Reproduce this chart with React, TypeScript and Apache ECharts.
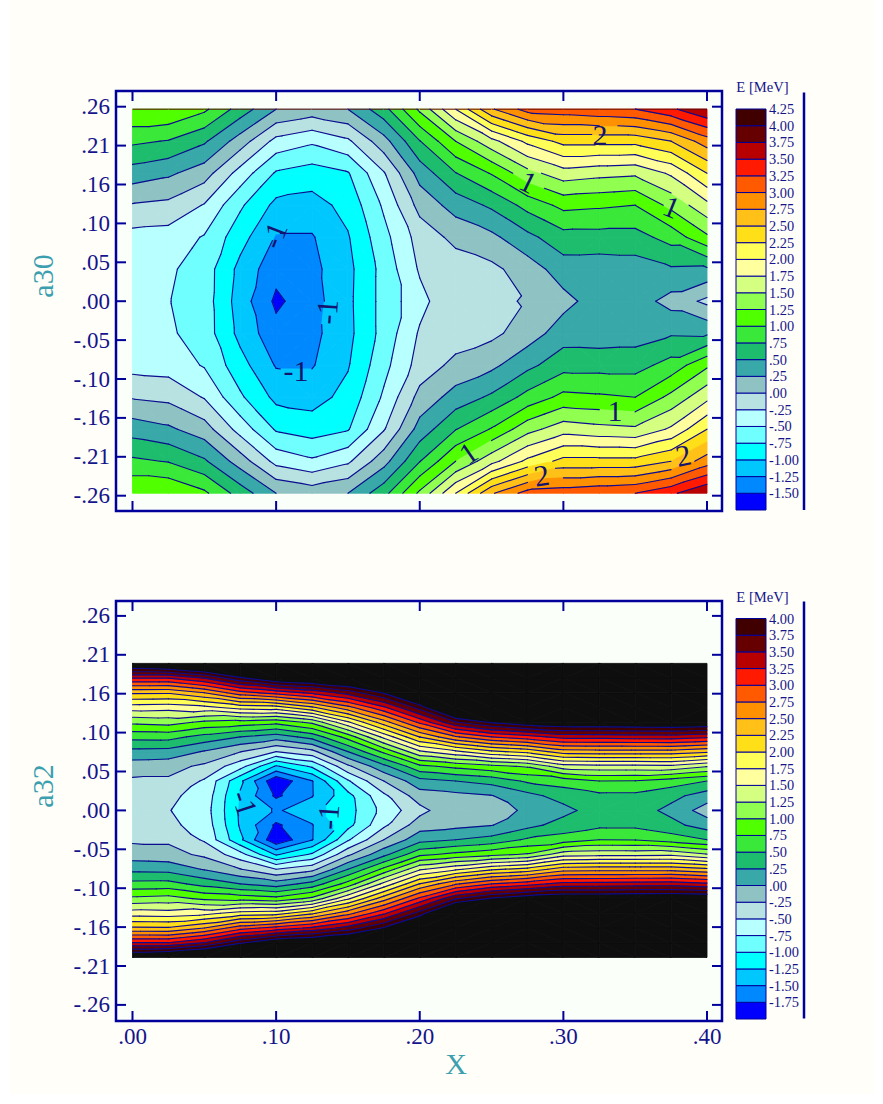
import React, { useEffect, useRef } from "react";
import * as echarts from "echarts";

// ---------- DATA: a30 panel, one array per x column, values at rows y = 0 ... top (mirror symmetric) ----------
const xStep = 0.025;
const a30Rows = [0, 0.04278, 0.08556, 0.12834, 0.17112, 0.2139, 0.25668];
const a30c0 = [-0.44, -0.42, -0.34, -0.02, 0.386, 0.8, 1.24];
const a30c1 = [-0.49, -0.46, -0.36, -0.063, 0.296, 0.735, 1.24];
const a30c2 = [-0.625, -0.62, -0.52, -0.267, 0.113, 0.537, 1.05];
const a30c3 = [-1.12, -1.075, -0.904, -0.71, -0.35, 0.13, 0.64];
const a30c4 = [-1.55, -1.417, -1.27, -1.066, -0.78, -0.33, 0.25];
const a30c5 = [-1.35, -1.32, -1.27, -1.1, -0.868, -0.457, 0.146];
const a30c6 = [-1.06, -1.07, -1.02, -0.92, -0.77, -0.295, 0.25];
const a30c7 = [-0.66, -0.66, -0.58, -0.46, -0.27, 0.154, 0.66];
const a30c8 = [-0.33, -0.22, -0.146, 0.084, 0.35, 0.74, 1.3];
const a30c9 = [-0.04, -0.13, 0.07, 0.353, 0.74, 1.25, 2.0];
const a30c10 = [-0.03, -0.06, 0.19, 0.545, 1.02, 1.666, 2.72];
const a30c11 = [0.012, 0.12, 0.432, 0.835, 1.41, 2.06, 3.1];
const a30c12 = [0.17, 0.376, 0.653, 1.07, 1.64, 2.33, 3.14];
const a30c13 = [0.37, 0.36, 0.655, 1.04, 1.58, 2.33, 3.2];
const a30c14 = [0.37, 0.38, 0.655, 1.0, 1.546, 2.33, 3.25];
const a30c15 = [0.16, 0.47, 0.845, 1.32, 1.79, 2.5, 3.45];
const a30c16 = [-0.06, 0.46, 1.208, 1.68, 2.25, 2.88, 3.74];
const a30Columns = [a30c0, a30c1, a30c2, a30c3, a30c4, a30c5, a30c6, a30c7, a30c8, a30c9, a30c10, a30c11, a30c12, a30c13, a30c14, a30c15, a30c16];

// ---------- DATA: a32 panel ----------
const a32Rows = [0, 0.01965, 0.0393, 0.05895, 0.0786, 0.09825, 0.1179, 0.13755, 0.1572, 0.17685, 0.1965];
const a32c0 = [-0.4, -0.36, -0.29, -0.13, 0.175, 0.58, 1.06, 1.625, 2.29, 3.25, 4.4];
const a32c1 = [-0.49, -0.45, -0.29, -0.16, 0.16, 0.59, 1.1, 1.6, 2.28, 3.25, 4.5];
const a32c2 = [-0.625, -0.59, -0.53, -0.3, -0.02, 0.41, 0.95, 1.67, 2.5, 3.5, 4.7];
const a32c3 = [-1.295, -1.28, -1.2, -0.65, -0.24, 0.25, 0.9, 1.85, 2.9, 3.95, 5.0];
const a32c4 = [-1.53, -1.797, -1.95, -1.28, -0.5, 0.12, 0.83, 1.89, 3.09, 4.3, 5.5];
const a32c5 = [-1.36, -1.514, -1.51, -0.96, -0.33, 0.34, 1.06, 2.2, 3.3, 4.4, 5.6];
const a32c6 = [-1.1, -1.08, -0.78, -0.3, 0.25, 0.85, 1.71, 2.66, 3.6, 4.55, 5.5];
const a32c7 = [-0.66, -0.55, -0.25, 0.18, 0.81, 1.57, 2.39, 3.2, 4.03, 4.9, 5.7];
const a32c8 = [-0.33, -0.12, 0.16, 0.69, 1.46, 2.26, 3.06, 3.86, 4.66, 5.4, 6.2];
const a32c9 = [-0.045, -0.07, 0.25, 0.82, 1.7, 2.72, 3.73, 4.75, 5.7, 6.7, 7.7];
const a32c10 = [-0.03, -0.01, 0.34, 0.93, 1.95, 3.0, 4.04, 5.1, 6.1, 7.2, 8.2];
const a32c11 = [0.012, 0.17, 0.54, 1.03, 2.08, 3.15, 4.22, 5.3, 6.4, 7.4, 8.5];
const a32c12 = [0.17, 0.354, 0.61, 1.39, 2.38, 3.34, 4.3, 5.2, 6.2, 7.2, 8.2];
const a32c13 = [0.38, 0.44, 0.75, 1.42, 2.4, 3.35, 4.3, 5.2, 6.2, 7.2, 8.1];
const a32c14 = [0.37, 0.44, 0.74, 1.42, 2.4, 3.37, 4.32, 5.3, 6.2, 7.2, 8.1];
const a32c15 = [0.18, 0.325, 0.63, 1.44, 2.4, 3.38, 4.33, 5.3, 6.2, 7.2, 8.1];
const a32c16 = [-0.12, 0.13, 0.5, 1.27, 2.3, 3.3, 4.3, 5.3, 6.2, 7.2, 8.1];
const a32Columns = [a32c0, a32c1, a32c2, a32c3, a32c4, a32c5, a32c6, a32c7, a32c8, a32c9, a32c10, a32c11, a32c12, a32c13, a32c14, a32c15, a32c16];

// ---------- Levels, colours, ticks ----------
const a30Levels = [-1.75, -1.5, -1.25, -1, -0.75, -0.5, -0.25, 0, 0.25, 0.5, 0.75, 1, 1.25, 1.5, 1.75, 2, 2.25, 2.5, 2.75, 3, 3.25, 3.5, 3.75, 4, 4.25];
const a32Levels = [-2, -1.75, -1.5, -1.25, -1, -0.75, -0.5, -0.25, 0, 0.25, 0.5, 0.75, 1, 1.25, 1.5, 1.75, 2, 2.25, 2.5, 2.75, 3, 3.25, 3.5, 3.75, 4];
const bandColors = ["#0000ff", "#0088ff", "#00c8ff", "#00ffff", "#70ffff", "#b8ffff", "#b8e2e2", "#8fc3c3", "#38a8a8", "#1ebd6e", "#3ae83a", "#50ff00", "#90ff50", "#d4ff80", "#ffff9e", "#ffff58", "#ffdf18", "#ffc018", "#ff9000", "#ff5a00", "#ff1a00", "#b80000", "#660000", "#400000"];
const overColor = "#0e0e0e";
const xTicks = [0, 0.1, 0.2, 0.3, 0.4];
const xTickLabels = [".00", ".10", ".20", ".30", ".40"];
const yTicks = [-0.26, -0.208, -0.156, -0.104, -0.052, 0, 0.052, 0.104, 0.156, 0.208, 0.26];
const yTickLabels = ["-.26", "-.21", "-.16", "-.10", "-.05", ".00", ".05", ".10", ".16", ".21", ".26"];
const a30BarLabels = ["-1.50", "-1.25", "-1.00", "-.75", "-.50", "-.25", ".00", ".25", ".50", ".75", "1.00", "1.25", "1.50", "1.75", "2.00", "2.25", "2.50", "2.75", "3.00", "3.25", "3.50", "3.75", "4.00", "4.25"];
const a32BarLabels = ["-1.75", "-1.50", "-1.25", "-1.00", "-.75", "-.50", "-.25", ".00", ".25", ".50", ".75", "1.00", "1.25", "1.50", "1.75", "2.00", "2.25", "2.50", "2.75", "3.00", "3.25", "3.50", "3.75", "4.00"];
const a30Marks: [string, number, number, number][] = [
  ["2", 0.3255, 0.2232, 0],
  ["1", 0.2756, 0.1595, -0.45],
  ["1", 0.3754, 0.1261, -0.38],
  ["1", 0.3359, -0.1466, 0],
  ["1", 0.2338, -0.2028, 0.6],
  ["2", 0.2849, -0.2326, 0.15],
  ["2", 0.3835, -0.2059, 0.2],
  ["-1", 0.1138, -0.0922, 0],
  ["-1", 0.0985, 0.0882, 1.2],
  ["-1", 0.1352, -0.0143, 1.5],
];
const a32Marks: [string, number, number, number][] = [
  ["-1", 0.0783, 0.0099, -1.25],
  ["-1", 0.1361, -0.0088, 1.5],
];

const NAVY = "#00009a";
const TEXT = "#14148c";
const TEAL = "#3c9fb0";
const SERIF = "Liberation Serif";

type V = { x: number; y: number; v: number };

function clipAt(poly: V[], level: number, keepAbove: boolean): V[] {
  const out: V[] = [];
  for (let i = 0; i < poly.length; i++) {
    const a = poly[i];
    const b = poly[(i + 1) % poly.length];
    const ain = keepAbove ? a.v >= level : a.v <= level;
    const bin = keepAbove ? b.v >= level : b.v <= level;
    if (ain) out.push(a);
    if (ain !== bin) {
      const t = (level - a.v) / (b.v - a.v);
      out.push({ x: a.x + (b.x - a.x) * t, y: a.y + (b.y - a.y) * t, v: level });
    }
  }
  return out;
}

function makeGrid(columns: number[][], rows: number[]) {
  const n = rows.length - 1;
  const value = (i: number, j: number) => columns[i][Math.abs(j)];
  const rowY = (j: number) => (j < 0 ? -rows[-j] : rows[j]);
  const cells: number[][] = [];
  for (let i = 0; i < columns.length - 1; i++) {
    for (let j = -n; j < n; j++) cells.push([i * xStep, rowY(j), i, j]);
  }
  const triangles = (api: any) => {
    const i = api.value(2);
    const j = api.value(3);
    const corner = (ci: number, cj: number): V => {
      const p = api.coord([ci * xStep, rowY(cj)]);
      return { x: p[0], y: p[1], v: value(ci, cj) };
    };
    const A = corner(i, j);
    const B = corner(i + 1, j);
    const C = corner(i + 1, j + 1);
    const D = corner(i, j + 1);
    // split each cell along the diagonal whose two corners have the closer values
    return Math.abs(B.v - D.v) <= Math.abs(A.v - C.v) ? [[A, B, D], [B, C, D]] : [[A, B, C], [A, C, D]];
  };
  return { cells, triangles, top: n };
}

function panelSeries(columns: number[][], rows: number[], levels: number[], marks: [string, number, number, number][], axis: number, edgeLine: boolean) {
  const g = makeGrid(columns, rows);
  const fillItem = (params: any, api: any) => {
    const children: any[] = [];
    for (const tri of g.triangles(api)) {
      for (let b = 0; b <= bandColors.length; b++) {
        const lo = b === 0 ? -Infinity : levels[b];
        const hi = b === bandColors.length ? Infinity : levels[b + 1];
        const color = b === bandColors.length ? overColor : bandColors[b];
        let poly: V[] = tri as V[];
        if (isFinite(lo)) poly = clipAt(poly, lo, true);
        if (poly.length >= 3 && isFinite(hi)) poly = clipAt(poly, hi, false);
        if (poly.length >= 3) {
          children.push({
            type: "polygon",
            shape: { points: poly.map((p) => [p.x, p.y]) },
            style: { fill: color, stroke: color, lineWidth: 0.9 },
          });
        }
      }
    }
    if (edgeLine && api.value(3) === g.top - 1) {
      const a = api.coord([api.value(0), rows[g.top]]);
      const b = api.coord([api.value(0) + xStep, rows[g.top]]);
      children.push({ type: "line", shape: { x1: a[0], y1: a[1], x2: b[0], y2: b[1] }, style: { stroke: "#5a0000", lineWidth: 1 } });
    }
    return { type: "group", children };
  };
  const lineItem = (params: any, api: any) => {
    const children: any[] = [];
    const gaps = marks.map((m) => api.coord([m[1], m[2]]));
    for (const tri of g.triangles(api)) {
      for (let l = 1; l < levels.length; l++) {
        const level = levels[l];
        if (level > 4) continue;
        const pts: number[][] = [];
        for (let e = 0; e < 3; e++) {
          const a = (tri as V[])[e];
          const b = (tri as V[])[(e + 1) % 3];
          if (a.v >= level !== b.v >= level) {
            const t = (level - a.v) / (b.v - a.v);
            pts.push([a.x + (b.x - a.x) * t, a.y + (b.y - a.y) * t]);
          }
        }
        if (pts.length === 2) {
          const mx = (pts[0][0] + pts[1][0]) / 2;
          const my = (pts[0][1] + pts[1][1]) / 2;
          if (gaps.some((c) => Math.hypot(c[0] - mx, c[1] - my) < 13)) continue;
          children.push({
            type: "line",
            shape: { x1: pts[0][0], y1: pts[0][1], x2: pts[1][0], y2: pts[1][1] },
            style: { stroke: "#0c0c90", lineWidth: 1.15, lineCap: "round" },
          });
        }
      }
    }
    return { type: "group", children };
  };
  const markItem = (params: any, api: any) => {
    const p = api.coord([api.value(0), api.value(1)]);
    return {
      type: "text",
      x: p[0],
      y: p[1],
      rotation: api.value(3),
      style: {
        text: marks[params.dataIndex][0],
        font: `30px "${SERIF}"`,
        fill: "#14146e",
        align: "center",
        verticalAlign: "middle",
      },
    };
  };
  const tickItems: number[][] = [];
  xTicks.forEach((t) => {
    tickItems.push([t, 0, 0]);
    tickItems.push([t, 0, 1]);
  });
  yTicks.forEach((t) => {
    tickItems.push([0, t, 2]);
    tickItems.push([0, t, 3]);
  });
  const tickItem = (params: any, api: any) => {
    const side = api.value(2);
    const cs = params.coordSys;
    const left = cs.x;
    const right = cs.x + cs.width;
    const top = cs.y;
    const bottom = cs.y + cs.height;
    const p = api.coord([api.value(0), api.value(1)]);
    const len = 10;
    const shape =
      side === 0
        ? { x1: p[0], y1: bottom, x2: p[0], y2: bottom - len }
        : side === 1
        ? { x1: p[0], y1: top, x2: p[0], y2: top + len }
        : side === 2
        ? { x1: left, y1: p[1], x2: left + len, y2: p[1] }
        : { x1: right, y1: p[1], x2: right - len, y2: p[1] };
    return { type: "line", shape, style: { stroke: NAVY, lineWidth: 2 } };
  };
  const base = { type: "custom", xAxisIndex: axis, yAxisIndex: axis, silent: true, progressive: 0, animation: false };
  return [
    { ...base, renderItem: fillItem, data: g.cells, z: 2 },
    { ...base, renderItem: lineItem, data: g.cells, z: 3 },
    { ...base, renderItem: markItem, data: marks.map((m) => [m[1], m[2], 0, m[3]]), z: 4 },
    { ...base, renderItem: tickItem, data: tickItems, z: 5 },
  ];
}

function barSeries(levels: number[], axis: number) {
  return {
    type: "custom",
    xAxisIndex: axis,
    yAxisIndex: axis,
    silent: true,
    progressive: 0,
    data: bandColors.map((c, i) => [0, levels[i], levels[i + 1]]),
    renderItem: (params: any, api: any) => {
      const a = api.coord([0, api.value(1)]);
      const b = api.coord([1, api.value(2)]);
      return {
        type: "rect",
        shape: { x: a[0], y: b[1], width: b[0] - a[0], height: a[1] - b[1] },
        style: { fill: bandColors[params.dataIndex], stroke: NAVY, lineWidth: 1 },
      };
    },
  };
}

const U = 0.052 / 38.9; // axis units per pixel

function plotAxes(top: number, zero: number, bottom: number, showX: boolean) {
  const ymax = (zero - top) * U;
  const ymin = -(bottom - zero) * U;
  const xmin = -16.5 / 1436.25;
  const xmax = 589.5 / 1436.25;
  return { ymin, ymax, xmin, xmax, showX };
}

function buildOption() {
  const p1 = plotAxes(91, 301.2, 511, false);
  const p2 = plotAxes(601, 810.4, 1021, true);
  const xAxisFor = (p: any, grid: number) => ({
    type: "value", gridIndex: grid, min: p.xmin, max: p.xmax, position: "bottom",
    axisLine: { show: false }, splitLine: { show: false }, axisTick: { show: false },
    axisLabel: {
      show: p.showX, customValues: xTicks, margin: 4, color: TEXT, fontFamily: SERIF, fontSize: 23,
      formatter: (v: number) => xTickLabels[xTicks.findIndex((t) => Math.abs(t - v) < 1e-6)] ?? "",
    },
  });
  const yAxisFor = (p: any, grid: number) => ({
    type: "value", gridIndex: grid, min: p.ymin, max: p.ymax, position: "left",
    axisLine: { show: false }, splitLine: { show: false }, axisTick: { show: false },
    axisLabel: {
      customValues: yTicks, margin: 6, color: TEXT, fontFamily: SERIF, fontSize: 23,
      formatter: (v: number) => yTickLabels[yTicks.findIndex((t) => Math.abs(t - v) < 1e-6)] ?? "",
    },
  });
  const barX = (grid: number) => ({ type: "value", gridIndex: grid, min: 0, max: 1, show: false });
  const barY = (grid: number, levels: number[], labels: string[]) => {
    const vals = levels.slice(1);
    return {
      type: "value", gridIndex: grid, min: levels[0], max: levels[levels.length - 1], position: "right",
      axisLine: { show: false }, axisTick: { show: false }, splitLine: { show: false },
      axisLabel: {
        customValues: vals, margin: 3, color: TEXT, fontFamily: SERIF, fontSize: 14.4,
        formatter: (v: number) => labels[vals.findIndex((t) => Math.abs(t - v) < 1e-6)] ?? "",
      },
    };
  };
  const plotGrid = (top: number) => ({
    left: 116, top, width: 606, height: 420, show: true,
    backgroundColor: "#fbfffa", borderColor: NAVY, borderWidth: 2.5, containLabel: false,
  });
  const barGrid = (top: number, height: number) => ({ left: 736, top, width: 30, height, show: false });
  const text = (t: string, x: number, y: number, size: number, fill: string, rotation = 0) => ({
    type: "text", x, y, rotation, silent: true,
    style: { text: t, font: `${size}px "${SERIF}"`, fill, align: "center", verticalAlign: "middle" },
  });
  return {
    animation: false,
    backgroundColor: "transparent",
    grid: [plotGrid(91), barGrid(109, 401), plotGrid(601), barGrid(618.5, 400.5)],
    xAxis: [xAxisFor(p1, 0), barX(1), xAxisFor(p2, 2), barX(3)],
    yAxis: [yAxisFor(p1, 0), barY(1, a30Levels, a30BarLabels), yAxisFor(p2, 2), barY(3, a32Levels, a32BarLabels)],
    series: [
      ...panelSeries(a30Columns, a30Rows, a30Levels, a30Marks, 0, true),
      barSeries(a30Levels, 1),
      ...panelSeries(a32Columns, a32Rows, a32Levels, a32Marks, 2, false),
      barSeries(a32Levels, 3),
    ],
    graphic: [
      text("a30", 42, 276, 30, TEAL, Math.PI / 2),
      text("a32", 42, 786, 30, TEAL, Math.PI / 2),
      text("X", 456, 1063, 30, TEAL),
      text("E [MeV]", 762.5, 87, 14.6, TEXT),
      text("E [MeV]", 762.5, 597, 14.6, TEXT),
      { type: "line", silent: true, shape: { x1: 804, y1: 92.5, x2: 804, y2: 510 }, style: { stroke: NAVY, lineWidth: 2.5 } },
      { type: "line", silent: true, shape: { x1: 804, y1: 601.5, x2: 804, y2: 1018.5 }, style: { stroke: NAVY, lineWidth: 2.5 } },
    ],
  };
}

export default function App() {
  const ref = useRef<HTMLDivElement>(null);
  useEffect(() => {
    document.body.style.margin = "0";
    document.body.style.background = "#ffffff";
    const chart = echarts.init(ref.current!, undefined, { renderer: "svg", width: 883, height: 1104 });
    chart.setOption(buildOption() as any);
    return () => chart.dispose();
  }, []);
  return (
    <div style={{ position: "relative", width: 883, height: 1104, overflow: "hidden" }}>
      <div style={{ position: "absolute", left: 10, top: 0, width: 863, height: 1094, background: "#fffef8" }} />
      <div ref={ref} style={{ position: "absolute", left: 0, top: 0, width: 883, height: 1104 }} />
    </div>
  );
}
